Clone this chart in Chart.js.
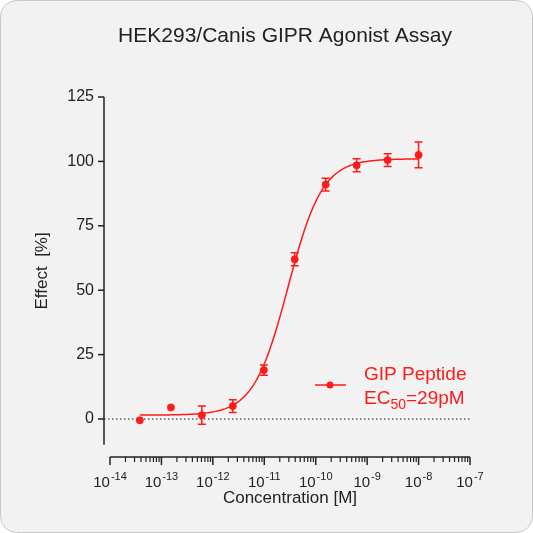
<!DOCTYPE html>
<html><head><meta charset="utf-8">
<script src="https://cdn.jsdelivr.net/npm/chart.js@4/dist/chart.umd.min.js"></script>
<style>html,body{margin:0;padding:0;background:#fff}#wrap{position:relative;width:533px;height:533px}</style>
</head><body><div id="wrap"><canvas id="c" width="533" height="533"></canvas></div>
<script>
const concentrations = [3.8e-14,1.53e-13,6.1e-13,2.44e-12,9.8e-12,3.9e-11,1.56e-10,6.25e-10,2.5e-9,1e-8];
const effects = [-0.5,4.5,1.5,5,19,62,91,98.5,100.5,102.5];
const errors = [0,0,3.5,2.5,2,2.5,2.5,2.5,2.5,5];
const yTicks = [0,25,50,75,100,125];
const xDecades = [-14,-13,-12,-11,-10,-9,-8,-7];
const fitBottom = 1.5, fitTop = 101, fitLogEC50 = Math.log10(29e-12), fitHill = 1.3;
const RED = '#ff1a1a';
const F = 'Arial, "Liberation Sans"';

const curve = [];
for (let i=0;i<=220;i++){ const lx=-13.42+i*(5.42/220); const x=Math.pow(10,lx);
  curve.push({x, y: fitBottom+(fitTop-fitBottom)/(1+Math.pow(10,(fitLogEC50-lx)*fitHill))}); }

const deco = {
  id:'deco',
  beforeDraw(ch){ const c=ch.ctx; c.save();
    c.fillStyle='#f2f2f2'; c.strokeStyle='#c8c8c8'; c.lineWidth=1;
    c.beginPath(); c.roundRect(0.5,0.5,532,532,16); c.fill(); c.stroke();
    const x=ch.scales.x,y=ch.scales.y;
    c.strokeStyle='#222'; c.lineWidth=1; c.setLineDash([1.5,2.5]);
    c.beginPath(); c.moveTo(x.left-6,y.getPixelForValue(0)); c.lineTo(x.right,y.getPixelForValue(0)); c.stroke();
    c.setLineDash([]); c.restore(); },
  afterDraw(ch){ const c=ch.ctx; const x=ch.scales.x,y=ch.scales.y; c.save();
    c.strokeStyle='#222'; c.fillStyle='#222'; c.lineWidth=1.5;
    const yl=x.left-6;
    c.beginPath(); c.moveTo(yl,y.getPixelForValue(125)); c.lineTo(yl,y.getPixelForValue(-10)); c.stroke();
    c.font='16px '+F; c.textAlign='right'; c.textBaseline='middle';
    yTicks.forEach(v=>{const p=y.getPixelForValue(v); c.beginPath(); c.moveTo(yl-6,p); c.lineTo(yl,p); c.stroke(); c.fillText(String(v),yl-10,p);});
    const xb=y.bottom;
    c.beginPath(); c.moveTo(x.left,xb); c.lineTo(x.right,xb); c.stroke();
    c.lineWidth=1.2;
    for(let d=-14; d<-7; d++) for(let m=2;m<=9;m++){const p=x.getPixelForValue(m*Math.pow(10,d)); c.beginPath(); c.moveTo(p,xb); c.lineTo(p,xb+5); c.stroke();}
    c.lineWidth=1.5;
    xDecades.forEach(d=>{const p=x.getPixelForValue(Math.pow(10,d)); c.beginPath(); c.moveTo(p,xb); c.lineTo(p,xb+8); c.stroke();
      c.font='15px '+F; const w1=c.measureText('10').width;
      c.font='11px '+F; const s=String(d); const w2=c.measureText(s).width;
      const x0=p-(w1+w2+1)/2; c.textAlign='left'; c.textBaseline='alphabetic';
      c.font='15px '+F; c.fillText('10',x0,487);
      c.font='11px '+F; c.fillText(s,x0+w1+1,480);});
    c.textAlign='center'; c.font='17px '+F; c.fillText('Concentration [M]',(x.left+x.right)/2,503);
    c.save(); c.translate(47,(y.getPixelForValue(125)+y.getPixelForValue(-10))/2); c.rotate(-Math.PI/2); c.fillText('Effect  [%]',0,0); c.restore();
    c.font='21px '+F; c.fillText('HEK293/Canis GIPR Agonist Assay',285,42);
    c.strokeStyle=RED; c.lineWidth=1.5;
    concentrations.forEach((cx,i)=>{ if(!errors[i]) return; const px=x.getPixelForValue(cx);
      const t=y.getPixelForValue(effects[i]+errors[i]), b=y.getPixelForValue(effects[i]-errors[i]);
      c.beginPath(); c.moveTo(px,t); c.lineTo(px,b); c.moveTo(px-4,t); c.lineTo(px+4,t); c.moveTo(px-4,b); c.lineTo(px+4,b); c.stroke();});
    c.beginPath(); c.moveTo(315,385); c.lineTo(346,385); c.stroke();
    c.fillStyle=RED; c.beginPath(); c.arc(330,385,3.5,0,Math.PI*2); c.fill();
    c.textAlign='left'; c.textBaseline='alphabetic'; c.font='19px '+F;
    c.fillText('GIP Peptide',364,380);
    c.fillText('EC',364,404); let w=c.measureText('EC').width;
    c.font='14px '+F; c.fillText('50',364+w,409); const w2=c.measureText('50').width;
    c.font='19px '+F; c.fillText('=29pM',364+w+w2,404);
    c.restore(); }
};

new Chart(document.getElementById('c'),{
  type:'scatter',
  data:{datasets:[
    {data:curve, showLine:true, pointRadius:0, borderColor:RED, borderWidth:1.5, tension:0},
    {data:concentrations.map((c,i)=>({x:c,y:effects[i]})), pointRadius:3.5, pointBackgroundColor:RED, pointBorderColor:RED, showLine:false}
  ]},
  options:{responsive:false, animation:false, devicePixelRatio:1,
    layout:{padding:{left:110,right:63,top:97,bottom:76}},
    plugins:{legend:{display:false},tooltip:{enabled:false}},
    scales:{x:{type:'logarithmic',min:1e-14,max:1e-7,display:false},
            y:{min:-14.75,max:125,display:false}}},
  plugins:[deco]
});
</script></body></html>
